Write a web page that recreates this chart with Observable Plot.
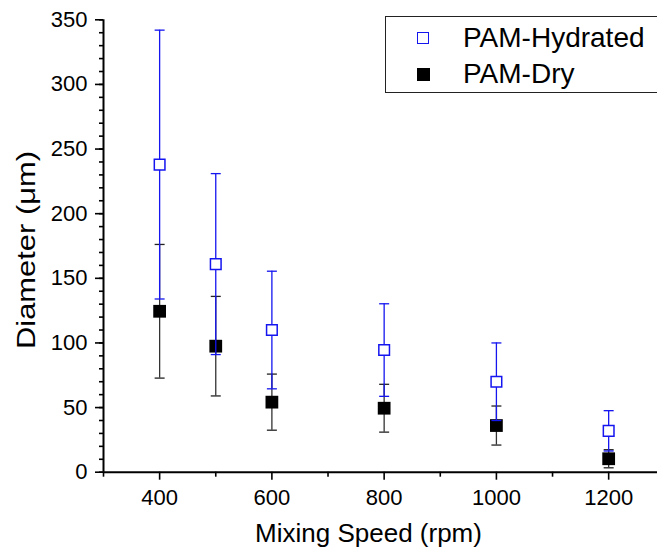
<!DOCTYPE html>
<html>
<head>
<meta charset="utf-8">
<script src="https://cdn.jsdelivr.net/npm/d3@7"></script>
<script src="https://cdn.jsdelivr.net/npm/@observablehq/plot@0.6"></script>
<style>
  html, body { margin: 0; padding: 0; background: #fff; overflow: hidden; }
  #wrap { position: relative; width: 657px; height: 558px; font-family: "Liberation Sans", Arial, sans-serif; }
  #legend { position: absolute; left: 385px; top: 16px; width: 300px; height: 77px; border: 1.5px solid #222; box-sizing: border-box; background: #fff; }
  .item { position: absolute; left: 0; font-size: 28px; line-height: 28px; color: #000; }
  .item .mk { position: absolute; left: 31px; top: 8px; width: 12px; height: 12px; box-sizing: border-box; }
  .item .lab { position: absolute; left: 77px; top: 0; white-space: nowrap; }
</style>
</head>
<body>
<div id="wrap"></div>
<script>
const speeds = [400, 500, 600, 800, 1000, 1200];
const hydratedMean = [238, 161, 110, 94.5, 70, 32];
const hydratedErr  = [104, 70, 45.5, 35.8, 30, 15.6];
const dryMean = [124.5, 97.5, 54.2, 49.5, 36.1, 10.4];
const dryErr  = [51.7, 38.5, 21.7, 18.5, 15.1, 7];
const seriesNames = ["PAM-Hydrated", "PAM-Dry"];
const xTitle = "Mixing Speed (rpm)";
const yTitle = "Diameter (\u03bcm)";
const xMajorTicks = [400, 600, 800, 1000, 1200];
const xMinorTicks = [300, 500, 700, 900, 1100];
const yMajorTicks = [0, 50, 100, 150, 200, 250, 300, 350];
const yMinorTicks = d3.range(0, 351, 10);

const hyd = speeds.map((s, i) => ({x: s, m: hydratedMean[i], lo: hydratedMean[i] - hydratedErr[i], hi: hydratedMean[i] + hydratedErr[i]}));
const dry = speeds.map((s, i) => ({x: s, m: dryMean[i], lo: dryMean[i] - dryErr[i], hi: dryMean[i] + dryErr[i]}));

const cap = { draw(ctx, size) { const r = Math.sqrt(size / Math.PI); ctx.moveTo(-r, 0); ctx.lineTo(r, 0); } };
const blue = "#1515f0";

const chart = Plot.plot({
  width: 657,
  height: 558,
  marginLeft: 103,
  marginTop: 19.3,
  marginBottom: 86.3,
  marginRight: 0,
  style: { fontFamily: "Liberation Sans, Arial, sans-serif", fontSize: "22px", color: "#000", background: "#fff" },
  x: { domain: [300, 1287] },
  y: { domain: [0, 350] },
  marks: [
    Plot.axisX({ ticks: xMinorTicks, tickSize: 5, text: null, label: null, strokeWidth: 1.6 }),
    Plot.axisX({ ticks: xMajorTicks, tickSize: 8, tickPadding: 9, tickFormat: d3.format("d"), label: null, fontSize: 22, strokeWidth: 1.6 }),
    Plot.axisY({ ticks: yMinorTicks, tickSize: 4, text: null, label: null, strokeWidth: 1.6 }),
    Plot.axisY({ ticks: yMajorTicks, tickSize: 8, tickPadding: 8, label: null, fontSize: 22, strokeWidth: 1.6 }),
    Plot.ruleY([0], { stroke: "#000", strokeWidth: 2 }),
    Plot.ruleX([300], { stroke: "#000", strokeWidth: 2 }),
    // Dry
    Plot.ruleX(dry, { x: "x", y1: "lo", y2: "hi", stroke: "#333", strokeWidth: 1.3 }),
    Plot.dot(dry, { x: "x", y: "hi", symbol: cap, r: 5, stroke: "#222", strokeWidth: 1.3 }),
    Plot.dot(dry, { x: "x", y: "lo", symbol: cap, r: 5, stroke: "#222", strokeWidth: 1.3 }),
    Plot.dot(dry, { x: "x", y: "m", symbol: "square", r: 7.2, fill: "#000", stroke: "none" }),
    // Hydrated
    Plot.ruleX(hyd, { x: "x", y1: "lo", y2: "hi", stroke: blue, strokeWidth: 1.3 }),
    Plot.dot(hyd, { x: "x", y: "hi", symbol: cap, r: 5, stroke: blue, strokeWidth: 1.3 }),
    Plot.dot(hyd, { x: "x", y: "lo", symbol: cap, r: 5, stroke: blue, strokeWidth: 1.3 }),
    Plot.dot(hyd, { x: "x", y: "m", symbol: "square", r: 6.0, fill: "#fff", stroke: blue, strokeWidth: 1.5 }),
    // Axis titles
    Plot.text([xTitle], { text: d => d, frameAnchor: "bottom", dx: -12, dy: 70, fontSize: 26, lineAnchor: "bottom", fill: "#000" }),
    Plot.text([yTitle], { text: d => d, frameAnchor: "left", dx: -77, dy: 4, rotate: -90, fontSize: 26, textAnchor: "middle", lineAnchor: "middle", fill: "#000", className: "ytitle" })
  ]
});

const wrap = document.getElementById("wrap");
wrap.appendChild(chart);
d3.select(chart).selectAll("text").filter(function() { return this.textContent === yTitle; })
  .attr("textLength", 198).attr("lengthAdjust", "spacingAndGlyphs");
const legend = document.createElement("div");
legend.id = "legend";
legend.innerHTML =
  `<div class="item" style="top:7px"><span class="mk" style="border:1.5px solid ${blue};background:#fff"></span><span class="lab">${seriesNames[0]}</span></div>` +
  `<div class="item" style="top:43px"><span class="mk" style="background:#000;width:13px;height:13px"></span><span class="lab">${seriesNames[1]}</span></div>`;
wrap.appendChild(legend);
</script>
</body>
</html>
